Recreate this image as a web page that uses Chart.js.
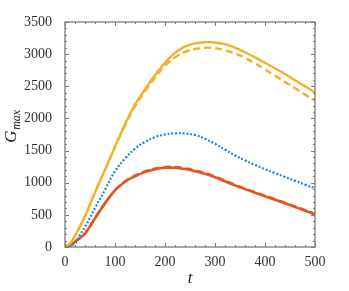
<!DOCTYPE html>
<html><head><meta charset="utf-8">
<script src="https://cdn.jsdelivr.net/npm/chart.js@4/dist/chart.umd.min.js"></script>
<style>html,body{margin:0;padding:0;background:#fff;}canvas{display:block}</style>
</head><body>
<canvas id="c" width="349" height="291"></canvas>
<script>
// ---- data ----
const tValues      = [0, 10, 20, 30, 40, 60, 80, 100, 120, 140, 160, 180, 200, 220, 240, 260, 280, 300, 320, 340, 360, 380, 400, 420, 440, 460, 480, 500];
const orangeSolid  = [0, 50, 175, 320, 480, 850, 1200, 1560, 1910, 2220, 2450, 2675, 2865, 3020, 3120, 3168, 3185, 3182, 3155, 3100, 3030, 2950, 2865, 2780, 2690, 2595, 2500, 2400];
const orangeDashed = [0, 50, 175, 320, 480, 850, 1200, 1555, 1895, 2190, 2420, 2635, 2815, 2950, 3035, 3080, 3100, 3093, 3062, 3010, 2943, 2855, 2760, 2662, 2568, 2470, 2372, 2275];
const blueDotted   = [0, 15, 60, 190, 310, 605, 890, 1180, 1375, 1530, 1635, 1710, 1750, 1768, 1766, 1742, 1685, 1605, 1515, 1425, 1348, 1277, 1210, 1150, 1090, 1030, 970, 913];
const redSolid     = [0, 25, 80, 140, 210, 445, 680, 880, 1015, 1100, 1165, 1208, 1232, 1232, 1212, 1180, 1140, 1085, 1022, 958, 900, 845, 790, 735, 680, 622, 565, 508];
const redDashed    = [0, 25, 80, 140, 210, 445, 681, 883, 1021, 1108, 1175, 1219, 1244, 1244, 1224, 1191, 1150, 1095, 1031, 967, 909, 853, 798, 743, 688, 630, 573, 516];
const xTickLabels  = [0, 100, 200, 300, 400, 500];
const yTickLabels  = [0, 500, 1000, 1500, 2000, 2500, 3000, 3500];

const ORANGE = '#F2B12B', BLUE = '#1E84D8', RED = '#E1571E';
const SERIF = '"Liberation Serif", "DejaVu Serif", serif';

function pts(arr) { return tValues.map((t, i) => ({ x: t, y: arr[i] })); }
function ds(arr, color, width, dash) {
  return { data: pts(arr), borderColor: color, borderWidth: width, borderDash: dash,
           pointRadius: 0, fill: false, tension: 0.4, borderCapStyle: 'butt' };
}

const frameTicks = {
  id: 'frameTicks',
  afterDraw(chart) {
    const { ctx, chartArea: a, scales: { x, y } } = chart;
    ctx.save();
    ctx.strokeStyle = '#7a7a7a';
    ctx.lineWidth = 1;
    for (let t = 0; t <= 500; t += 20) {
      const px = Math.round(x.getPixelForValue(t)) + 0.5;
      const len = (t % 100 === 0) ? 4 : 2;
      ctx.beginPath();
      ctx.moveTo(px, a.bottom); ctx.lineTo(px, a.bottom - len);
      ctx.moveTo(px, a.top); ctx.lineTo(px, a.top + len);
      ctx.stroke();
    }
    for (let v = 0; v <= 3500; v += 100) {
      const py = Math.round(y.getPixelForValue(v)) + 0.5;
      const len = (v % 500 === 0) ? 4 : 2;
      ctx.beginPath();
      ctx.moveTo(a.left, py); ctx.lineTo(a.left + len, py);
      ctx.moveTo(a.right, py); ctx.lineTo(a.right - len, py);
      ctx.stroke();
    }
    ctx.lineWidth = 1.3;
    ctx.strokeRect(a.left, a.top, a.right - a.left, a.bottom - a.top);
    // y-axis title G_max
    ctx.fillStyle = '#222';
    ctx.translate(16, (a.top + a.bottom) / 2 - 8);
    ctx.rotate(-Math.PI / 2);
    ctx.textBaseline = 'alphabetic';
    ctx.font = 'italic 17px ' + SERIF;
    const wG = ctx.measureText('G').width;
    ctx.font = 'italic 12px ' + SERIF;
    const wM = ctx.measureText('max').width;
    const x0 = -(wG + wM) / 2;
    ctx.font = 'italic 17px ' + SERIF;
    ctx.fillText('G', x0, 0);
    ctx.font = 'italic 12px ' + SERIF;
    ctx.fillText('max', x0 + wG + 0.5, 4);
    ctx.restore();
  }
};

new Chart(document.getElementById('c'), {
  type: 'line',
  data: {
    datasets: [
      ds(orangeDashed, ORANGE, 2.4, [7, 4]),
      ds(orangeSolid, ORANGE, 2.4, []),
      ds(blueDotted, BLUE, 2.2, [2, 1.8]),
      ds(redDashed, RED, 2.6, [7, 4]),
      ds(redSolid, RED, 2.6, [])
    ]
  },
  options: {
    responsive: false,
    animation: false,
    layout: { padding: { left: 0, right: 34, top: 22, bottom: 0 } },
    plugins: { legend: { display: false }, tooltip: { enabled: false } },
    scales: {
      x: {
        type: 'linear', min: 0, max: 500,
        afterBuildTicks(s) { s.ticks = xTickLabels.map(v => ({ value: v })); },
        afterFit(s) { s.height = 44; },
        grid: { display: false, drawTicks: false },
        border: { display: false },
        ticks: { padding: 7, color: '#333', font: { family: SERIF, size: 14 }, maxRotation: 0,
                 callback: v => String(v) },
        title: { display: true, text: 't', color: '#222', font: { family: SERIF, size: 17, style: 'italic' }, padding: { top: 0, bottom: 2 } }
      },
      y: {
        type: 'linear', min: 0, max: 3500,
        afterBuildTicks(s) { s.ticks = yTickLabels.map(v => ({ value: v })); },
        afterFit(s) { s.width = 65; },
        grid: { display: false, drawTicks: false },
        border: { display: false },
        ticks: { padding: 13, color: '#333', font: { family: SERIF, size: 14 }, callback: v => String(v) }
      }
    }
  },
  plugins: [frameTicks]
});
</script>
</body></html>
